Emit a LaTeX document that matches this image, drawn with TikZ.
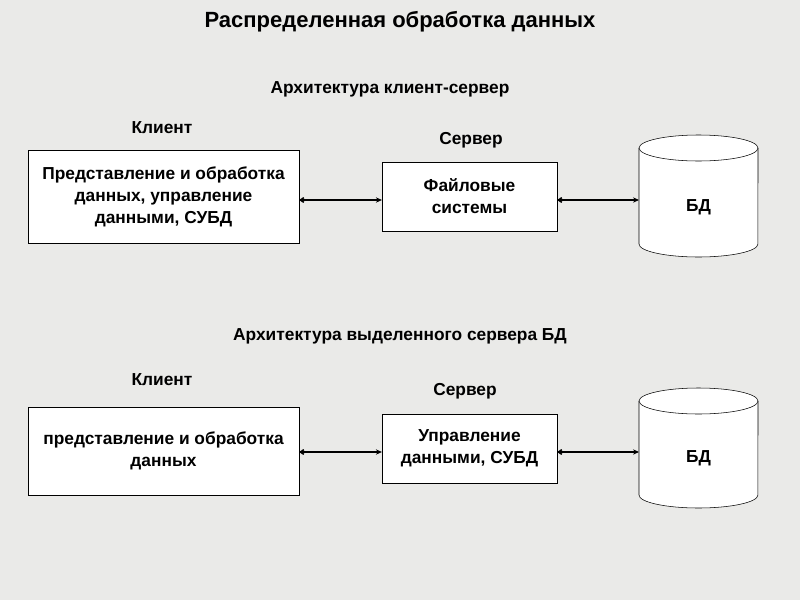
\documentclass[tikz,border=0pt]{standalone}
\usepackage{fontspec}
\setmainfont{Liberation Sans}
\usetikzlibrary{arrows.meta}
\definecolor{bgcol}{RGB}{234,234,232}
\tikzset{
  block/.style={draw, thin, fill=white, align=center, font=\bfseries\fontsize{13}{16.5}\selectfont, inner sep=0pt},
  lbl/.style={font=\bfseries\fontsize{13}{16}\selectfont},
  link/.style={{Straight Barb[length=2.5pt,width=3.5pt]}-{Stealth[length=4.5pt,width=4pt]}, line width=1.2pt}
}
\begin{document}
\begin{tikzpicture}[x=0.75pt,y=-0.75pt]
\fill[bgcol] (0,0) rectangle (800,600);
\useasboundingbox (0,0) rectangle (800,600);
\node[font=\bfseries\fontsize{16.5}{19}\selectfont] (title) at (400,22) {Распределенная обработка данных};

\foreach \top/\bot/\n in {148/244/db1, 401/495/db2}{
  \draw[thin, fill=white] (639,\top) -- (639,\bot) arc[start angle=180, end angle=360, x radius=44.6pt, y radius=9.75pt] -- (758,\top);
  \draw[thin, fill=white] (698.5,\top) ellipse[x radius=44.6pt, y radius=9.75pt];
  \coordinate (\n) at (639,\top);
}
\node[lbl] (bd1) at (698.5,207) {БД};
\node[lbl] (bd2) at (698.5,458) {БД};

\node[lbl] (arch1) at (390,89) {Архитектура клиент-сервер};
\node[lbl] (cl1) at (162,128) {Клиент};
\node[lbl] (sv1) at (471,140) {Сервер};
\node[block, minimum width=203pt, minimum height=70pt] (client1) at (163.5,196.5) {Представление и обработка\\данных, управление\\данными, СУБД};
\node[block, minimum width=131pt, minimum height=52pt] (server1) at (469.5,196.5) {Файловые\\системы};
\draw[link] (client1.east |- 0,200) -- (server1.west |- 0,200);
\draw[link] (server1.east |- 0,200) -- (db1 |- 0,200);

\node[lbl] (arch2) at (400,336) {Архитектура выделенного сервера БД};
\node[lbl] (cl2) at (162,380) {Клиент};
\node[lbl] (sv2) at (465,391) {Сервер};
\node[block, minimum width=203pt, minimum height=66pt] (client2) at (163.5,451) {представление и обработка\\данных};
\node[block, minimum width=131pt, minimum height=52pt] (server2) at (469.5,448.5) {Управление\\данными, СУБД};
\draw[link] (client2.east |- 0,452) -- (server2.west |- 0,452);
\draw[link] (server2.east |- 0,452) -- (db2 |- 0,452);
\end{tikzpicture}
\end{document}
